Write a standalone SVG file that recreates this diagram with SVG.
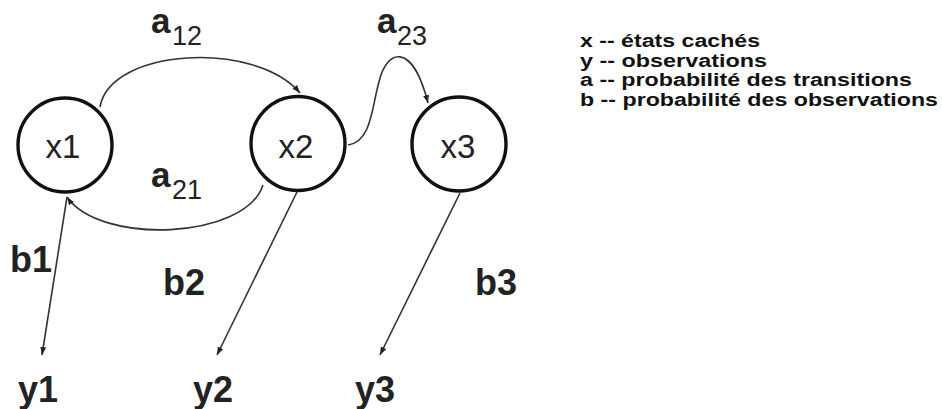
<svg xmlns="http://www.w3.org/2000/svg" width="942" height="409" viewBox="0 0 942 409">
<defs>
<marker id="arr" markerUnits="userSpaceOnUse" markerWidth="8" markerHeight="7" viewBox="0 0 8 7" refX="8" refY="3.5" orient="auto">
<path d="M0,0.5 L8,3.5 L0,6.5 z" fill="#222"/>
</marker>
<style>
.node circle{fill:#fff;stroke:#111;stroke-width:3.4}
.node text{font-family:"Liberation Sans",Arial,sans-serif;font-size:33px;fill:#222;text-anchor:middle}
.edge{fill:none;stroke:#333;stroke-width:1.6;marker-end:url(#arr)}
.lbl{font-family:"Liberation Sans",Arial,sans-serif;fill:#222}
.big{font-size:35px;font-weight:bold}
.sub{font-size:27px}
.by{font-size:36px;font-weight:bold}
.leg{font-family:"Liberation Sans",Arial,sans-serif;font-size:18px;font-weight:bold;fill:#111}
</style>
</defs>
<rect width="942" height="409" fill="#fff"/>
<g id="connectors">
<path class="edge" d="M100,107 C110,48 255,40 300,93"/>
<path class="edge" d="M263,185 C245,240 100,245 67,197"/>
<path class="edge" d="M348,145 C372,142 372,105 379,82 C386,50 412,40 428,103"/>
<path class="edge" d="M67,197 L42,355"/>
<path class="edge" d="M297,192 L217,355"/>
<path class="edge" d="M460,193 L380,355"/>
</g>
<g id="x1" class="node"><circle cx="65" cy="145" r="47"/><text x="63" y="158">x1</text></g>
<g id="x2" class="node"><circle cx="298" cy="143.5" r="47"/><text x="296" y="158">x2</text></g>
<g id="x3" class="node"><circle cx="459" cy="144" r="47"/><text x="458" y="158">x3</text></g>
<g id="labels">
<text class="lbl" x="151" y="33"><tspan class="big">a</tspan><tspan class="sub" x="172" y="45">12</tspan></text>
<text class="lbl" x="151" y="187"><tspan class="big">a</tspan><tspan class="sub" x="172" y="199">21</tspan></text>
<text class="lbl" x="377" y="33"><tspan class="big">a</tspan><tspan class="sub" x="397" y="45">23</tspan></text>
<text class="lbl by" x="10" y="272">b1</text>
<text class="lbl by" x="163" y="295">b2</text>
<text class="lbl by" x="475" y="295">b3</text>
<text class="lbl by" x="18" y="402">y1</text>
<text class="lbl by" x="193" y="402">y2</text>
<text class="lbl by" x="355" y="402">y3</text>
</g>
<g id="legend">
<text class="leg" x="580" y="47" textLength="180" lengthAdjust="spacingAndGlyphs">x -- états cachés</text>
<text class="leg" x="580" y="66.5" textLength="187" lengthAdjust="spacingAndGlyphs">y -- observations</text>
<text class="leg" x="580" y="86" textLength="332" lengthAdjust="spacingAndGlyphs">a -- probabilité des transitions</text>
<text class="leg" x="580" y="105.5" textLength="358" lengthAdjust="spacingAndGlyphs">b -- probabilité des observations</text>
</g>
</svg>
